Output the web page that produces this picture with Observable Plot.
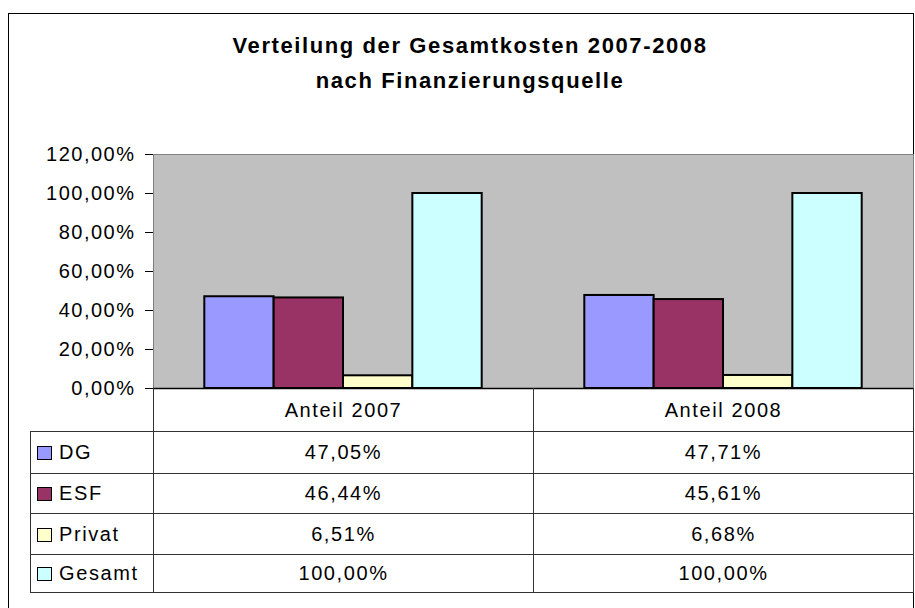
<!DOCTYPE html>
<html>
<head>
<meta charset="utf-8">
<script src="https://cdn.jsdelivr.net/npm/d3@7"></script>
<script src="https://cdn.jsdelivr.net/npm/@observablehq/plot@0.6"></script>
<style>
html, body { margin: 0; padding: 0; background: #fff; }
#root { position: relative; width: 915px; height: 608px; overflow: hidden; font-family: "Liberation Sans", Arial, sans-serif; color: #000; }
#frame { position: absolute; left: 8px; top: 13px; width: 906px; height: 640px; border: 1px solid #000; box-sizing: border-box; }
#chart { position: absolute; left: 0; top: 0; }
#title { position: absolute; left: 470px; top: 28px; transform: translateX(-50%); white-space: nowrap; text-align: center; font-weight: bold; font-size: 22px; letter-spacing: 1.6px; line-height: 35px; }
#dt { position: absolute; left: 30px; top: 388px; border-collapse: collapse; table-layout: fixed; font-size: 20px; letter-spacing: 1.6px; }
#dt td { padding: 0; border: 1px solid #333; text-align: center; vertical-align: middle; white-space: nowrap; }
#dt tr.head td { border-top: 1px solid #000; }
#dt td.blank { border-top: none !important; border-left: none; }
#dt td.leg { text-align: left; }
.sw { display: inline-block; width: 13px; height: 12px; border: 1px solid #000; margin-left: 6px; margin-right: 7px; vertical-align: -1px; }
</style>
</head>
<body>
<div id="root">
  <div id="frame"></div>
  <div id="chart"></div>
  <div id="title"></div>
  <table id="dt"></table>
</div>
<script>
// ---- data ----
const titleLines = ["Verteilung der Gesamtkosten 2007-2008", "nach Finanzierungsquelle"];
const years = ["Anteil 2007", "Anteil 2008"];
const series = ["DG", "ESF", "Privat", "Gesamt"];
const values2007 = [47.05, 46.44, 6.51, 100.00];
const values2008 = [47.71, 45.61, 6.68, 100.00];
const colors = ["#9999FF", "#993366", "#FFFFCC", "#CCFFFF"];
const yTicks = [0, 20, 40, 60, 80, 100, 120];

const valuesByYear = [values2007, values2008];
const fmt = v => v.toFixed(2).replace(".", ",") + "%";
const data = series.flatMap((s, i) => years.map((y, j) => ({ series: s, year: y, value: valuesByYear[j][i] })));

// ---- layout ----
const W = 915, H = 400, mL = 153, mR = 2, mT = 154, mB = 12;
const bw = (W - mL - mR) / years.length;
const group = bw * 0.73;
const w = group / series.length;
const pad = (bw - group) / 2;

const chart = Plot.plot({
  width: W, height: H,
  marginLeft: mL, marginRight: mR, marginTop: mT, marginBottom: mB,
  style: { background: "transparent", fontFamily: "Liberation Sans, Arial, sans-serif", fontSize: "20px", letterSpacing: "1.5px", overflow: "visible", color: "#000" },
  x: { type: "band", domain: years, padding: 0, axis: null },
  y: { domain: [0, 120], ticks: yTicks, tickFormat: fmt, tickSize: 8, tickPadding: 10, label: null },
  color: { domain: series, range: colors },
  marks: [
    Plot.frame({ fill: "#C0C0C0", stroke: "#808080" }),
    ...series.map((s, i) => Plot.barY(data.filter(d => d.series === s), {
      x: "year", y: "value", fill: "series", stroke: "#000", strokeWidth: 2,
      insetLeft: pad + i * w, insetRight: bw - pad - (i + 1) * w
    })),
    Plot.ruleY([0], { stroke: "#000", strokeWidth: 1.5 })
  ]
});
document.getElementById("chart").appendChild(chart);

// ---- title ----
document.getElementById("title").innerHTML = titleLines.join("<br>");

// ---- data table ----
const rowHeights = [43, 42, 40, 41, 38];
let html = `<colgroup><col style="width:123px"><col style="width:380px"><col style="width:380px"></colgroup>`;
html += `<tr class="head" style="height:${rowHeights[0]}px"><td class="blank"></td>` + years.map(y => `<td>${y}</td>`).join("") + `</tr>`;
series.forEach((s, i) => {
  html += `<tr style="height:${rowHeights[i + 1]}px"><td class="leg"><span class="sw" style="background:${colors[i]}"></span>${s}</td>` +
    valuesByYear.map(v => `<td>${fmt(v[i])}</td>`).join("") + `</tr>`;
});
document.getElementById("dt").innerHTML = html;
</script>
</body>
</html>
